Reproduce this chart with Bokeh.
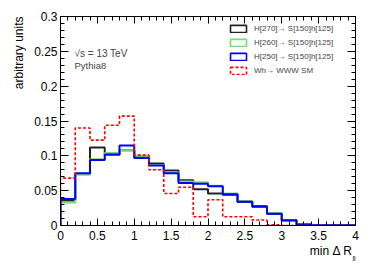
import numpy as np
from bokeh.plotting import figure
from bokeh.models import (Range1d, LinearAxis, FixedTicker, CustomJSTickFormatter,
                          Label, Legend, LegendItem, ColumnDataSource, Title)
from bokeh.embed import file_html
from bokeh.resources import INLINE

# ---- data (bin width 0.2, 0..4) ----
bin_edges = [round(0.2 * i, 1) for i in range(21)]
h270 = [0.036, 0.074, 0.112, 0.102, 0.108, 0.098, 0.089, 0.079, 0.065, 0.052,
        0.046, 0.044, 0.034, 0.028, 0.017, 0.008, 0.0015, 0.0005, 0.0003, 0.0002]
h260 = [0.033, 0.073, 0.095, 0.104, 0.108, 0.100, 0.087, 0.076, 0.063, 0.062,
        0.057, 0.046, 0.035, 0.027, 0.018, 0.007, 0.0015, 0.0005, 0.0003, 0.0002]
h250 = [0.038, 0.075, 0.094, 0.102, 0.115, 0.097, 0.086, 0.075, 0.061, 0.060,
        0.0565, 0.045, 0.034, 0.027, 0.017, 0.007, 0.0015, 0.0005, 0.0003, 0.0002]
whsm = [0.068, 0.140, 0.1225, 0.144, 0.157, 0.101, 0.080, 0.046, 0.055, 0.0125,
        0.037, 0.0125, 0.0125, 0.008, 0.001, 0.0, 0.0, 0.0, 0.0, 0.0]
labels = ["H[270]\u2192 S[150]h[125]", "H[260]\u2192 S[150]h[125]",
          "H[250]\u2192 S[150]h[125]", "Wh\u2192 WWW SM"]


def step_path(edges, vals):
    xs, ys = [edges[0]], [0.0]
    for i, v in enumerate(vals):
        xs += [edges[i], edges[i + 1]]
        ys += [v, v]
    xs.append(edges[-1])
    ys.append(0.0)
    return xs, ys


FONT = "Liberation Sans"

p = figure(width=374, height=268, output_backend="svg", toolbar_location=None,
           x_range=Range1d(0, 4), y_range=Range1d(0, 0.3),
           min_border_left=60, min_border_right=19, min_border_top=16, min_border_bottom=43)
p.xgrid.grid_line_color = None
p.ygrid.grid_line_color = None
p.outline_line_color = "black"
p.outline_line_width = 1
p.background_fill_color = "white"

fmt = CustomJSTickFormatter(code="return String(Math.round(tick*1000)/1000);")
blank = CustomJSTickFormatter(code="return '';")
xt = FixedTicker(ticks=list(np.round(np.arange(0, 4.01, 0.5), 2)),
                 minor_ticks=list(np.round(np.arange(0, 4.01, 0.1), 2)))
yt = FixedTicker(ticks=list(np.round(np.arange(0, 0.301, 0.05), 3)),
                 minor_ticks=list(np.round(np.arange(0, 0.301, 0.01), 3)))


def style(ax, ticker, maj, show_labels):
    ax.ticker = ticker
    ax.major_tick_in = maj
    ax.major_tick_out = 0
    ax.minor_tick_in = 4
    ax.minor_tick_out = 0
    ax.axis_line_color = "black"
    ax.major_tick_line_color = "black"
    ax.minor_tick_line_color = "black"
    if show_labels:
        ax.formatter = fmt
        ax.major_label_text_font = FONT
        ax.major_label_text_font_size = "12px"
        ax.major_label_text_color = "black"
    else:
        ax.formatter = blank
        ax.major_label_text_color = None
        ax.major_label_standoff = 0


style(p.xaxis[0], xt, 7, True)
p.xaxis[0].major_label_standoff = 5
style(p.yaxis[0], yt, 8, True)
p.yaxis[0].major_label_standoff = 3

top = LinearAxis()
style(top, xt, 7, False)
p.add_layout(top, "above")
right = LinearAxis()
style(right, yt, 8, False)
p.add_layout(right, "right")

# histograms
colors = ["#222222", "#77d977", "#0000ff", "#ff0000"]
dashes = ["solid", "solid", "solid", "3 2"]
widths = [2, 2, 2, 1.6]
for vals, col, lw, dash in zip([h270, h260, h250, whsm], colors, widths, dashes):
    xs, ys = step_path(bin_edges, vals)
    p.line(xs, ys, line_color=col, line_width=lw, line_dash=dash)

# legend with box glyphs (renderers hold NaN so they draw nothing in the frame)
nan_src = ColumnDataSource(dict(l=[np.nan], r=[np.nan], t=[np.nan], b=[np.nan]))
items = []
for lab, col, dash in zip(labels, colors, dashes):
    r = p.quad(left="l", right="r", top="t", bottom="b", source=nan_src,
               fill_color="white", line_color=col, line_width=1.6, line_dash=dash)
    items.append(LegendItem(label=lab, renderers=[r]))
leg = Legend(items=items, location=(168, 150), glyph_width=20, glyph_height=9,
             label_height=10, spacing=4, padding=0, margin=0, label_standoff=6,
             label_text_font=FONT, label_text_font_size="8px",
             border_line_color=None, background_fill_alpha=0)
p.add_layout(leg)

# texts inside the frame
p.add_layout(Label(x=0.19, y=0.247, text="\u221as = 13 TeV", text_font=FONT,
                   text_font_size="10px", text_baseline="middle"))
p.add_layout(Label(x=0.19, y=0.229, text="Pythia8", text_font=FONT,
                   text_font_size="9.5px", text_baseline="middle"))

# axis titles as layout titles (annotations are clipped to the frame)
p.add_layout(Title(text="arbitrary units", align="right", text_font=FONT,
                   text_font_size="12px", text_font_style="normal",
                   text_color="black", standoff=12), "left")
p.add_layout(Title(text="min \u0394 R", align="right", offset=3, text_font=FONT,
                   text_font_size="12px", text_font_style="normal",
                   text_color="black", standoff=-2), "below")
p.add_layout(Title(text="ll", align="right", offset=0, text_font=FONT,
                   text_font_size="7px", text_font_style="normal",
                   text_color="black", standoff=-4, vertical_align="top"), "below")

open("out.html", "w").write(file_html(p, INLINE))
